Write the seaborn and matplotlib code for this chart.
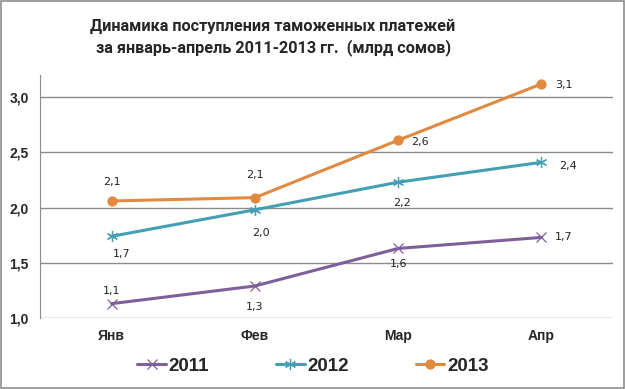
import pandas as pd
import seaborn as sns
import matplotlib.pyplot as plt
from matplotlib.patches import Rectangle

months = ['Янв', 'Фев', 'Мар', 'Апр']
y2011 = [1.13, 1.29, 1.63, 1.73]
y2012 = [1.74, 1.98, 2.23, 2.41]
y2013 = [2.06, 2.09, 2.61, 3.12]
labels2011 = ['1,1', '1,3', '1,6', '1,7']
labels2012 = ['1,7', '2,0', '2,2', '2,4']
labels2013 = ['2,1', '2,1', '2,6', '3,1']

rows = []
for yr, vals in [('2011', y2011), ('2012', y2012), ('2013', y2013)]:
    for i, v in enumerate(vals):
        rows.append({'month': i, 'year': yr, 'value': v})
df = pd.DataFrame(rows)

sns.set_style('white')
plt.rcParams['font.family'] = ['Liberation Sans', 'DejaVu Sans']

palette = {'2011': '#7D5F99', '2012': '#449FB2', '2013': '#E08A3F'}
markers = {'2011': 'x', '2012': (6, 2, 0), '2013': 'o'}
msize = {'2011': 7, '2012': 8, '2013': 6.5}

fig = plt.figure(figsize=(6.25, 3.89), dpi=100)
ax = fig.add_axes([0.064, 0.1825, 0.917, 0.6245])
for yr in ['2011', '2012', '2013']:
    c = palette[yr]
    sns.lineplot(data=df[df['year'] == yr], x='month', y='value', color=c,
                 marker=markers[yr], markersize=msize[yr], markeredgewidth=0.9,
                 markeredgecolor=c, markerfacecolor=c, linewidth=2.2,
                 label=yr, ax=ax)

ax.set_xlim(-0.5, 3.5)
ax.set_ylim(1.0, 3.2)
ax.set_yticks([1.0, 1.5, 2.0, 2.5, 3.0])
ax.set_yticklabels(['1,0', '1,5', '2,0', '2,5', '3,0'], fontsize=10, fontweight='bold')
ax.set_xticks(range(4))
ax.set_xticklabels(months, fontsize=10, fontweight='bold')
ax.tick_params(axis='both', length=0, pad=8)
ax.set_xlabel(None)
ax.set_ylabel(None)
ax.grid(axis='y', color='#8C8C8C', linewidth=1)
for s in ['top', 'right', 'bottom']:
    ax.spines[s].set_visible(False)
ax.spines['left'].set_color('#8C8C8C')

lab_kw = dict(fontsize=8, family='DejaVu Sans', color='#222222', ha='center', va='center')
off2011 = [(0, 9), (0, -15), (0, -11), (16, 0)]
off2012 = [(7, -13), (4, -17), (3, -15), (19, -3)]
off2013 = [(0, 14), (0, 16), (16, -1), (16, -1)]
for vals, labs, offs in [(y2011, labels2011, off2011), (y2012, labels2012, off2012),
                         (y2013, labels2013, off2013)]:
    for i, (v, t, o) in enumerate(zip(vals, labs, offs)):
        ax.annotate(t, (i, v), xytext=o, textcoords='offset points', **lab_kw)

handles, labs = ax.get_legend_handles_labels()
ax.legend_.remove()
fig.legend(handles, labs, loc='center', bbox_to_anchor=(0.501, 0.058), ncol=3,
           frameon=False, prop={'size': 13.5, 'weight': 'bold'},
           columnspacing=3.6, handlelength=1.5, handletextpad=0.15)

fig.text(0.437, 0.951, 'Динамика поступления таможенных платежей\nза январь-апрель 2011-2013 гг.  (млрд сомов)',
         ha='center', va='top', fontsize=11.7, fontweight='bold', family='Roboto',
         linespacing=1.35)

fig.patches.append(Rectangle((0.002, 0.002), 0.996, 0.996, transform=fig.transFigure,
                             fill=False, edgecolor='#8C8C8C', linewidth=1.2))
fig.savefig('out.png', dpi=100)
